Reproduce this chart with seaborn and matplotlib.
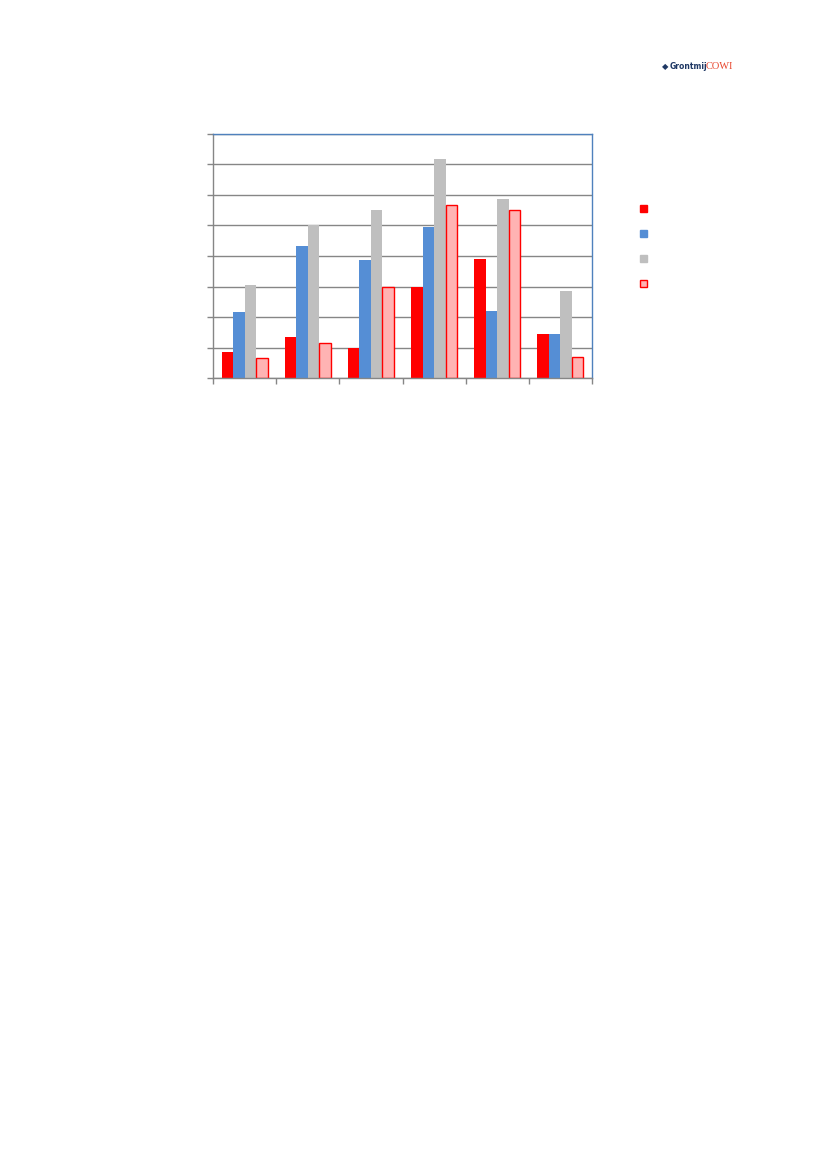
import matplotlib
matplotlib.use("Agg")

import matplotlib.pyplot as plt
from matplotlib.patches import Patch
from matplotlib.ticker import MultipleLocator, FixedLocator, NullFormatter
import seaborn as sns
import pandas as pd

# 値はグリッド単位で読み取り（目盛ラベルなし）
categories = ["1", "2", "3", "4", "5", "6"]
series = ["A", "B", "C", "D"]
values_a = [0.86, 1.33, 0.97, 2.97, 3.91, 1.43]
values_b = [2.17, 4.34, 3.88, 4.94, 2.19, 1.43]
values_c = [3.05, 5.03, 5.50, 7.18, 5.86, 2.86]
values_d = [0.66, 1.15, 2.98, 5.67, 5.51, 0.69]

colors = ["#FF0000", "#558ED5", "#BFBFBF", "#FFB3B3"]

df = pd.DataFrame({
    "cat": categories * 4,
    "series": [s for s in series for _ in categories],
    "val": values_a + values_b + values_c + values_d,
})

sns.set_style("white")
fig = plt.figure(figsize=(8.27, 11.70), dpi=100)
ax = fig.add_axes([0.2576, 0.6769, 0.4582, 0.2086])

sns.barplot(
    data=df, x="cat", y="val", hue="series", palette=colors,
    width=0.73, ax=ax, legend=False, saturation=1, linewidth=0,
)
for bar in ax.containers[3]:
    bar.set_edgecolor("#FF0000")
    bar.set_linewidth(1.0)

ax.set_xlim(-0.5, 5.5)
ax.set_ylim(0, 8)
ax.yaxis.set_major_locator(MultipleLocator(1))
ax.grid(axis="y", color="#868686", linewidth=1.0)
ax.set_axisbelow(True)
ax.set_xlabel("")
ax.set_ylabel("")
ax.set_yticklabels([])
ax.set_xticks([])
ax.xaxis.set_minor_locator(FixedLocator([i - 0.5 for i in range(7)]))
ax.xaxis.set_minor_formatter(NullFormatter())
ax.tick_params(axis="x", which="minor", length=4, color="#868686", width=1, direction="out", bottom=True)
ax.tick_params(axis="y", length=4, color="#868686", width=1, direction="out", left=True)

for side in ["left", "bottom"]:
    ax.spines[side].set_color("#868686")
    ax.spines[side].set_linewidth(1.0)
for side in ["top", "right"]:
    ax.spines[side].set_color("#4F81BD")
    ax.spines[side].set_linewidth(1.0)

# 凡例（ラベルなし）
handles = [
    Patch(facecolor=c, edgecolor=("#FF0000" if i == 3 else c), linewidth=1)
    for i, c in enumerate(colors)
]
fig.legend(
    handles, [" "] * 4, loc="upper left", bbox_to_anchor=(0.763, 0.8335),
    frameon=False, handlelength=0.7, handleheight=0.7, labelspacing=1.55,
    fontsize=7, handletextpad=0.5,
)

# ロゴ
fig.text(0.810, 0.943, "Grontmij", color="#1F3864", fontsize=5.5,
         fontweight="bold", ha="left", va="center")
fig.text(0.853, 0.943, "COWI", color="#E8452C", fontsize=7.5,
         family="Liberation Serif", ha="left", va="center")
fig.text(0.800, 0.943, "\u25c6", color="#1F3864", fontsize=6,
         ha="left", va="center")

fig.savefig("out.png", dpi=100)
